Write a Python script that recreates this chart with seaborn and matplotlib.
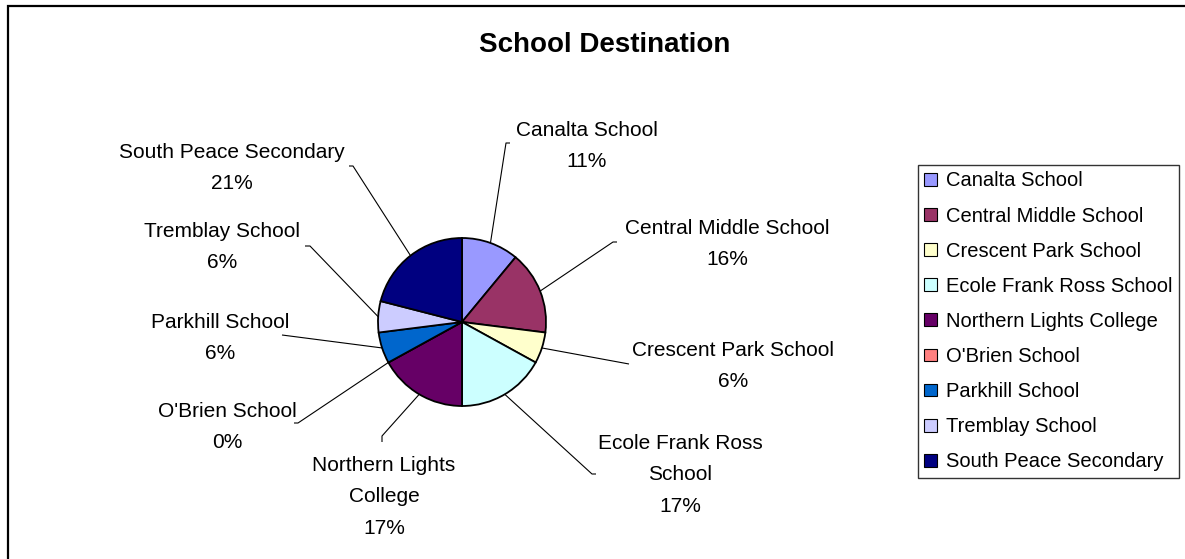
import numpy as np
import matplotlib
matplotlib.use("Agg")
import matplotlib.pyplot as plt
from matplotlib.patches import Rectangle, Patch
import seaborn as sns

# ---- data ----
schools = ["Canalta School", "Central Middle School", "Crescent Park School",
           "Ecole Frank Ross School", "Northern Lights College", "O'Brien School",
           "Parkhill School", "Tremblay School", "South Peace Secondary"]
shares = [11, 16, 6, 17, 17, 0, 6, 6, 21]
slice_labels = ["Canalta School", "Central Middle School", "Crescent Park School",
                "Ecole Frank Ross\nSchool", "Northern Lights\nCollege", "O'Brien School",
                "Parkhill School", "Tremblay School", "South Peace Secondary"]
colors = ["#9999FF", "#993366", "#FFFFCC", "#CCFFFF", "#660066",
          "#FF8080", "#0066CC", "#CCCCFF", "#000080"]
title = "School Destination"

# ---- layout (pixels, y measured from top) ----
W, H = 1185, 559
center_px = (462, 322)
radius_px = 84
label_pos = [(587, 146), (727, 244), (733, 366), (680, 475), (384, 497),
             (227, 427), (220, 338), (222, 247), (232, 168)]
elbows = [((506, 143), (510, 143)), ((613, 242), (617, 242)), ((629, 364), None),
          ((592, 474), (596, 474)), ((382, 436), (382, 442)), ((298, 423), (294, 423)),
          ((282, 335), None), ((310, 246), (305, 246)), ((353, 166), (349, 166))]

sns.set_theme(style="white")
plt.rcParams["font.family"] = ["Liberation Sans", "DejaVu Sans"]

fig = plt.figure(figsize=(W / 100, H / 100), dpi=100)
fig.patch.set_facecolor("white")
ax = fig.add_axes([0, 0, 1, 1])

def Y(y):
    return H - y

palette = sns.color_palette(colors)
cx, cy = center_px[0], Y(center_px[1])
wedges, _ = ax.pie(shares, colors=palette, startangle=90, counterclock=False,
                   center=(cx, cy), radius=radius_px,
                   wedgeprops=dict(edgecolor="black", linewidth=1.3))
ax.set_xlim(0, W)
ax.set_ylim(0, H)
ax.set_aspect("equal")
ax.axis("off")

fs = 15
for w, lab, val, (lx, ly), (el, tick) in zip(wedges, slice_labels, shares, label_pos, elbows):
    mid = np.deg2rad((w.theta1 + w.theta2) / 2)
    sx = cx + radius_px * np.cos(mid)
    sy = cy + radius_px * np.sin(mid)
    xs = [sx, el[0]]
    ys = [sy, Y(el[1])]
    if tick is not None:
        xs.append(tick[0])
        ys.append(Y(tick[1]))
    ax.plot(xs, ys, color="black", linewidth=0.8, solid_capstyle="butt")
    ax.text(lx, Y(ly), f"{lab}\n{val}%", ha="center", va="center",
            multialignment="center", fontsize=fs, linespacing=1.82, color="black")

fig.text(605 / W, 1 - 45 / H, title, ha="center", va="center",
         fontsize=20, fontweight="bold", color="black")

handles = [Patch(facecolor=c, edgecolor="black", linewidth=0.8) for c in palette]
leg = fig.legend(handles, schools, loc="upper left",
                 bbox_to_anchor=(918 / W, 1 - 165 / H), bbox_transform=fig.transFigure,
                 frameon=True, fancybox=False, fontsize=14.5,
                 handlelength=0.6, handleheight=0.6, handletextpad=0.45,
                 labelspacing=0.8, borderpad=0.32, borderaxespad=0)
leg.get_frame().set_edgecolor("black")
leg.get_frame().set_linewidth(1.0)
leg.get_frame().set_facecolor("white")
for t in leg.get_texts():
    t.set_color("black")

fig.add_artist(Rectangle((8 / W, -0.1), 1.2, (H - 6) / H + 0.1, transform=fig.transFigure,
                         fill=False, edgecolor="black", linewidth=1.6))

fig.savefig("out.png", dpi=100, facecolor="white")
